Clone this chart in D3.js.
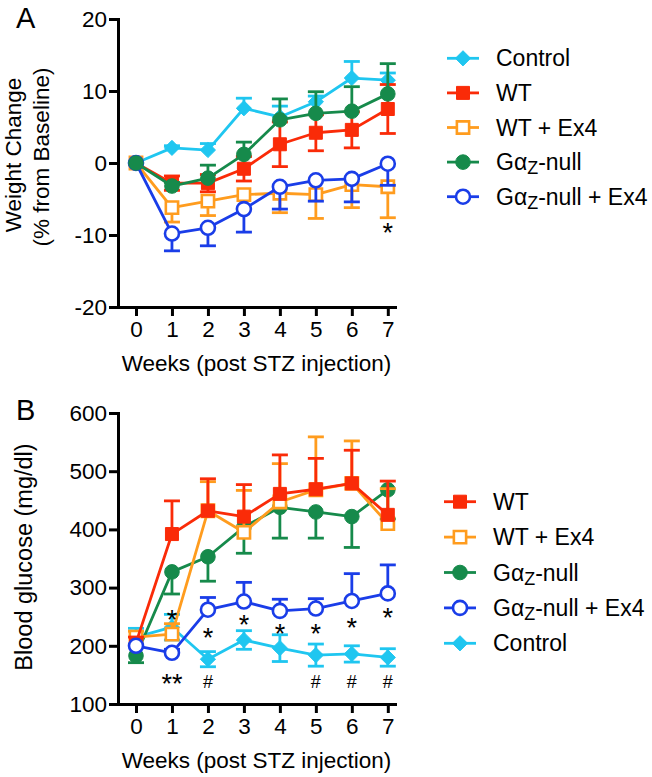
<!DOCTYPE html>
<html><head><meta charset="utf-8">
<script src="https://cdn.jsdelivr.net/npm/d3@7"></script>
<style>
body{margin:0;background:#fff}
text{font-family:Arial,"Liberation Sans",sans-serif;fill:#000}
</style>
</head><body>
<svg id="chart" width="652" height="777"></svg>
<script>
// ---------- DATA ----------
const weeks = [0, 1, 2, 3, 4, 5, 6, 7];
const yTicksA = [-20, -10, 0, 10, 20];
const yTicksB = [100, 200, 300, 400, 500, 600];

// Panel A: weight change (% from baseline)
const wControl    = [0, 2.1, 1.8, 7.6, 6.4, 8.5, 11.8, 11.5];
const wControlErr = [0, 0.3, 0.9, 1.4, 1.5, 0.8, 2.3, 1.0];
const wWT         = [0, -2.8, -2.8, -0.8, 2.6, 4.2, 4.6, 7.5];
const wWTErr      = [0, 1.0, 1.2, 1.7, 3.1, 2.5, 2.5, 3.4];
const wWTEx4      = [0, -6.2, -5.3, -4.4, -4.2, -4.4, -3.0, -3.3];
const wWTEx4Err   = [0, 2.0, 2.0, 1.9, 2.7, 3.3, 3.2, 4.3];
const wNull       = [0, -3.2, -2.1, 1.2, 6.0, 6.9, 7.2, 9.6];
const wNullErr    = [0, 0.5, 1.8, 1.7, 2.9, 3.0, 3.4, 4.2];
const wNullEx4    = [0, -9.8, -9.0, -6.4, -3.3, -2.4, -2.2, -0.1];
const wNullEx4Err = [0, 2.4, 2.5, 3.2, 3.1, 2.9, 3.2, 3.0];

// Panel B: blood glucose (mg/dl)
const gWT         = [205, 392, 432, 422, 461, 469, 479, 425];
const gWTErr      = [10, 57, 55, 55, 67, 53, 57, 58];
const gWTEx4      = [215, 220, 432, 395, 447, 468, 479, 410];
const gWTEx4Err   = [10, 18, 50, 72, 66, 91, 73, 60];
const gNull       = [183, 327, 353, 404, 438, 430, 422, 468];
const gNullErr    = [12, 38, 42, 45, 53, 45, 53, 50];
const gNullEx4    = [200, 188, 262, 276, 260, 264, 277, 290];
const gNullEx4Err = [0, 6, 21, 33, 20, 17, 47, 49];
const gControl    = [215, 232, 177, 210, 196, 184, 186, 180];
const gControlErr = [15, 22, 13, 16, 23, 19, 14, 15];

// significance marks
const annotA = [{week: 7, value: -8.9, label: "*"}];
const annotB = [
  {week: 1, value: 256, label: "*"}, {week: 1, value: 146, label: "**"},
  {week: 2, value: 224, label: "*"}, {week: 2, value: 138, label: "#"},
  {week: 3, value: 246, label: "*"},
  {week: 4, value: 231, label: "*"},
  {week: 5, value: 232, label: "*"}, {week: 5, value: 138, label: "#"},
  {week: 6, value: 241, label: "*"}, {week: 6, value: 138, label: "#"},
  {week: 7, value: 258, label: "*"}, {week: 7, value: 138, label: "#"}
];

// ---------- STYLES ----------
const diamond = {draw(ctx, size){const r = Math.sqrt(size / 2); ctx.moveTo(0,-r); ctx.lineTo(r,0); ctx.lineTo(0,r); ctx.lineTo(-r,0); ctx.closePath();}};
const styles = {
  control: {color: "#1fc6f0", symbol: diamond,         size: 115, open: false},
  wt:      {color: "#fa2b08", symbol: d3.symbolSquare, size: 169, open: false},
  wtex4:   {color: "#ff9c1e", symbol: d3.symbolSquare, size: 150, open: true},
  nul:     {color: "#168a4b", symbol: d3.symbolCircle, size: Math.PI * 7.3 * 7.3, open: false},
  nulex4:  {color: "#1a3de8", symbol: d3.symbolCircle, size: Math.PI * 7 * 7, open: true}
};
const LW = 2.8;

const svg = d3.select("#chart");

function labelGaz(textSel, suffix) {
  textSel.text("Gα");
  textSel.append("tspan").attr("font-size", "0.78em").attr("dy", 4).text("Z");
  textSel.append("tspan").attr("dy", -4).text(suffix);
}

function drawSymbol(g, st, x, y) {
  g.append("path")
    .attr("transform", `translate(${x},${y})`)
    .attr("d", d3.symbol().type(st.symbol).size(st.size)())
    .attr("fill", st.open ? "#fff" : st.color)
    .attr("stroke", st.color)
    .attr("stroke-width", st.open ? 2.6 : 1);
}

function drawPanel(cfg) {
  const g = svg.append("g");
  const x = d3.scaleLinear().domain([-0.5, 7.2]).range([118, 395]);
  const y = d3.scaleLinear().domain(cfg.domain).range(cfg.range);

  // axes
  const ax = g.append("g").attr("transform", `translate(0,${cfg.range[0]})`)
    .call(d3.axisBottom(x).tickValues(weeks).tickFormat(d => String(d)).tickSize(9).tickPadding(5).tickSizeOuter(0));
  const ay = g.append("g").attr("transform", `translate(118,0)`)
    .call(d3.axisLeft(y).tickValues(cfg.ticks).tickFormat(d => String(d)).tickSize(9).tickPadding(2).tickSizeOuter(0));
  [ax, ay].forEach(a => {
    a.select(".domain").attr("stroke", "#000").attr("stroke-width", 3).attr("stroke-linecap", "square");
    a.selectAll(".tick line").attr("stroke", "#000").attr("stroke-width", 3);
    a.selectAll(".tick text").attr("font-size", 22.5).attr("font-family", "Arial, 'Liberation Sans', sans-serif").attr("fill", "#000");
  });

  // series
  cfg.series.forEach(s => {
    const st = styles[s.style];
    const sg = g.append("g");
    const pts = weeks.map((w, i) => ({w, v: s.vals[i], e: s.err[i]}));
    // error bars
    pts.forEach(p => {
      if (!p.e) return;
      const dirs = s.dir === "both" ? [1, -1] : (s.dir === "up" ? [1] : [-1]);
      dirs.forEach(d => {
        const y0 = y(p.v), y1 = y(p.v + d * p.e), cx = x(p.w);
        sg.append("line").attr("x1", cx).attr("x2", cx).attr("y1", y0).attr("y2", y1)
          .attr("stroke", st.color).attr("stroke-width", LW);
        sg.append("line").attr("x1", cx - 8).attr("x2", cx + 8).attr("y1", y1).attr("y2", y1)
          .attr("stroke", st.color).attr("stroke-width", LW);
      });
    });
    sg.append("path").datum(pts)
      .attr("d", d3.line().x(p => x(p.w)).y(p => y(p.v)))
      .attr("fill", "none").attr("stroke", st.color).attr("stroke-width", LW).attr("stroke-linejoin", "round");
    pts.forEach(p => drawSymbol(sg, st, x(p.w), y(p.v)));
  });

  // annotations
  cfg.annot.forEach(a => {
    const isStar = a.label.indexOf("*") >= 0;
    const fs = isStar ? 27 : 18;
    g.append("text").attr("x", x(a.week)).attr("y", y(a.value) + (isStar ? 0.57 * fs : 0.36 * fs))
      .attr("text-anchor", "middle").attr("font-size", fs).text(a.label);
  });

  // axis titles
  g.append("text").attr("x", 256.5).attr("y", cfg.range[0] + 64)
    .attr("text-anchor", "middle").attr("font-size", 22.5).text("Weeks (post STZ injection)");
  cfg.ytitle.forEach(t => {
    g.append("text").attr("transform", `translate(${t.x},${t.cy}) rotate(-90)`)
      .attr("text-anchor", "middle").attr("font-size", t.fs).text(t.text);
  });
  g.append("text").attr("x", cfg.panel.x).attr("y", cfg.panel.y).attr("font-size", 29).text(cfg.panel.text);

  // legend
  cfg.legend.forEach((s, i) => {
    const st = styles[s.style];
    const ly = cfg.legendY + i * cfg.legendStep;
    const lg = g.append("g");
    lg.append("line").attr("x1", cfg.legendX - 16).attr("x2", cfg.legendX + 16).attr("y1", ly).attr("y2", ly)
      .attr("stroke", st.color).attr("stroke-width", LW);
    drawSymbol(lg, st, cfg.legendX, ly);
    const t = lg.append("text").attr("x", cfg.legendX + 33).attr("y", ly + 8).attr("font-size", 23);
    if (s.gaz) labelGaz(t, s.suffix); else t.text(s.name);
  });
}

const seriesA = [
  {name: "Control", vals: wControl, err: wControlErr, style: "control", dir: "up"},
  {name: "WT", vals: wWT, err: wWTErr, style: "wt", dir: "both"},
  {name: "WT + Ex4", vals: wWTEx4, err: wWTEx4Err, style: "wtex4", dir: "down"},
  {name: "Gαz-null + Ex4", vals: wNullEx4, err: wNullEx4Err, style: "nulex4", dir: "down"},
  {name: "Gαz-null", vals: wNull, err: wNullErr, style: "nul", dir: "up"}
];
const seriesB = [
  {name: "Control", vals: gControl, err: gControlErr, style: "control", dir: "both"},
  {name: "Gαz-null", vals: gNull, err: gNullErr, style: "nul", dir: "down"},
  {name: "WT + Ex4", vals: gWTEx4, err: gWTEx4Err, style: "wtex4", dir: "up"},
  {name: "WT", vals: gWT, err: gWTErr, style: "wt", dir: "up"},
  {name: "Gαz-null + Ex4", vals: gNullEx4, err: gNullEx4Err, style: "nulex4", dir: "up"}
];

drawPanel({
  domain: [-20, 20], range: [307, 19], ticks: yTicksA, series: seriesA, annot: annotA,
  ytitle: [{text: "Weight Change", x: 21, cy: 155, fs: 22.5}, {text: "(% from Baseline)", x: 49, cy: 157, fs: 22.5}],
  panel: {text: "A", x: 16, y: 28},
  legendX: 463, legendY: 58.3, legendStep: 34.6,
  legend: [
    {name: "Control", style: "control"}, {name: "WT", style: "wt"}, {name: "WT + Ex4", style: "wtex4"},
    {gaz: true, suffix: "-null", style: "nul"}, {gaz: true, suffix: "-null + Ex4", style: "nulex4"}
  ]
});
drawPanel({
  domain: [100, 600], range: [704, 413], ticks: yTicksB, series: seriesB, annot: annotB,
  ytitle: [{text: "Blood glucose (mg/dl)", x: 32, cy: 557, fs: 23.5}],
  panel: {text: "B", x: 16, y: 420},
  legendX: 460, legendY: 501.7, legendStep: 35.4,
  legend: [
    {name: "WT", style: "wt"}, {name: "WT + Ex4", style: "wtex4"},
    {gaz: true, suffix: "-null", style: "nul"}, {gaz: true, suffix: "-null + Ex4", style: "nulex4"},
    {name: "Control", style: "control"}
  ]
});
</script>
</body></html>
